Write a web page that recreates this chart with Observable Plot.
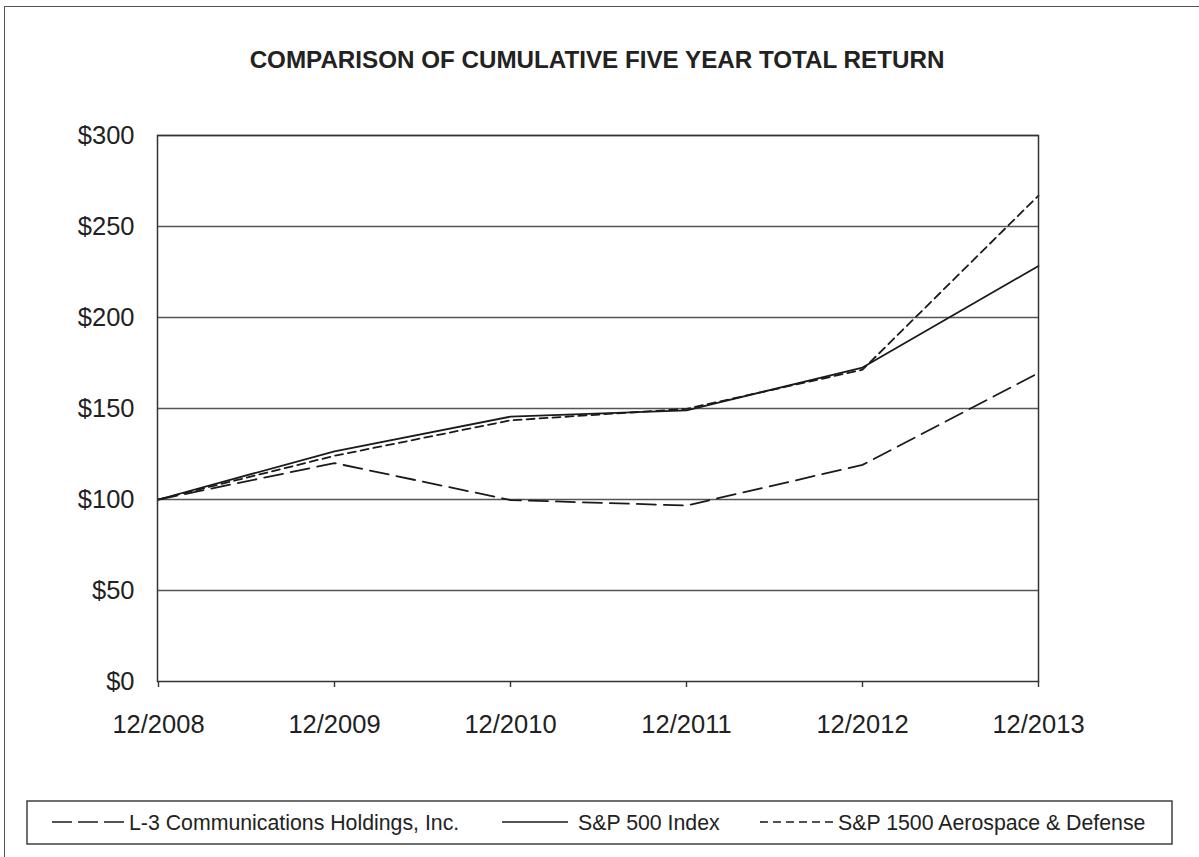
<!DOCTYPE html>
<html>
<head>
<meta charset="utf-8">
<script src="https://cdn.jsdelivr.net/npm/d3@7"></script>
<script src="https://cdn.jsdelivr.net/npm/@observablehq/plot@0.6"></script>
<style>
  html, body { margin: 0; padding: 0; background: #fff; }
  body { width: 1199px; height: 857px; overflow: hidden; font-family: "Liberation Sans", Arial, Helvetica, sans-serif; color: #222; }
  #wrap { position: relative; width: 1199px; height: 857px; }
  #outer { position: absolute; left: 4px; top: 6px; width: 1300px; height: 1000px; border: 1.5px solid #555; box-sizing: border-box; }
  #title { position: absolute; left: 0; width: 1194px; top: 46px; text-align: center; font-weight: bold; font-size: 24.2px; letter-spacing: 0; }
  #chart { position: absolute; left: 0; top: 0; }
  #legend { position: absolute; left: 0; top: 0; }
</style>
</head>
<body>
<div id="wrap">
  <div id="outer"></div>
  <div id="title">COMPARISON OF CUMULATIVE FIVE YEAR TOTAL RETURN</div>
  <div id="chart"></div>
  <svg id="legend" width="1199" height="857"></svg>
</div>
<script>
const years = ["12/2008", "12/2009", "12/2010", "12/2011", "12/2012", "12/2013"];
const l3Values = [100, 120, 99.7, 96.7, 119, 169.5];
const sp500Values = [100, 126.5, 145.5, 149, 172.5, 228.3];
const aeroValues = [100, 124, 143.5, 149.8, 171.3, 267];
const yTicks = [0, 50, 100, 150, 200, 250, 300];
const seriesNames = ["L-3 Communications Holdings, Inc.", "S&P 500 Index", "S&P 1500 Aerospace & Defense"];
const seriesDash = ["19,8", "none", "8,5"];

const seriesValues = [l3Values, sp500Values, aeroValues];
const rows = [];
seriesNames.forEach((name, i) => {
  years.forEach((yr, j) => rows.push({ series: name, year: yr, value: seriesValues[i][j] }));
});

const chart = Plot.plot({
  width: 1199,
  height: 760,
  marginLeft: 157,
  marginRight: 161,
  marginTop: 135,
  marginBottom: 79,
  style: { fontFamily: '"Liberation Sans", Arial, Helvetica, sans-serif', color: "#222", background: "transparent" },
  x: { type: "point", domain: years, padding: 0 },
  y: { domain: [0, 300] },
  marks: [
    Plot.ruleY(yTicks.filter(d => d > 0), { stroke: "#555", strokeWidth: 1.4 }),
    Plot.axisY({ ticks: yTicks, tickSize: 0, tickPadding: 23, fontSize: 25.5, tickFormat: d => "$" + d, label: null }),
    Plot.axisX({ tickSize: 6, tickPadding: 27, fontSize: 25.5, label: null, stroke: "#333", strokeWidth: 1.4 }),
    ...seriesNames.map((name, i) =>
      Plot.line(rows.filter(r => r.series === name), {
        x: "year", y: "value", stroke: "#1a1a1a", strokeWidth: 1.8,
        strokeDasharray: seriesDash[i] === "none" ? null : seriesDash[i]
      })
    ),
    Plot.frame({ stroke: "#333", strokeWidth: 1.5 })
  ]
});
document.getElementById("chart").appendChild(chart);

// Legend
const legend = d3.select("#legend");
const lx0 = 27, lx1 = 1172, ly0 = 801, ly1 = 844;
legend.append("rect").attr("x", lx0).attr("y", ly0).attr("width", lx1 - lx0).attr("height", ly1 - ly0)
  .attr("fill", "none").attr("stroke", "#333").attr("stroke-width", 1.4);
const items = [
  { sx0: 52, sx1: 124, tx: 129 },
  { sx0: 502, sx1: 568, tx: 578 },
  { sx0: 760, sx1: 834, tx: 838 }
];
const ly = 822;
seriesNames.forEach((name, i) => {
  const it = items[i];
  const ln = legend.append("line").attr("x1", it.sx0).attr("x2", it.sx1).attr("y1", ly).attr("y2", ly)
    .attr("stroke", "#1a1a1a").attr("stroke-width", 1.6);
  if (seriesDash[i] !== "none") ln.attr("stroke-dasharray", i === 0 ? "20,6" : "8,5");
  legend.append("text").attr("x", it.tx).attr("y", ly + 7.5).attr("font-size", 21.3)
    .attr("fill", "#222").attr("font-family", '"Liberation Sans", Arial, Helvetica, sans-serif').text(name);
});
</script>
</body>
</html>
